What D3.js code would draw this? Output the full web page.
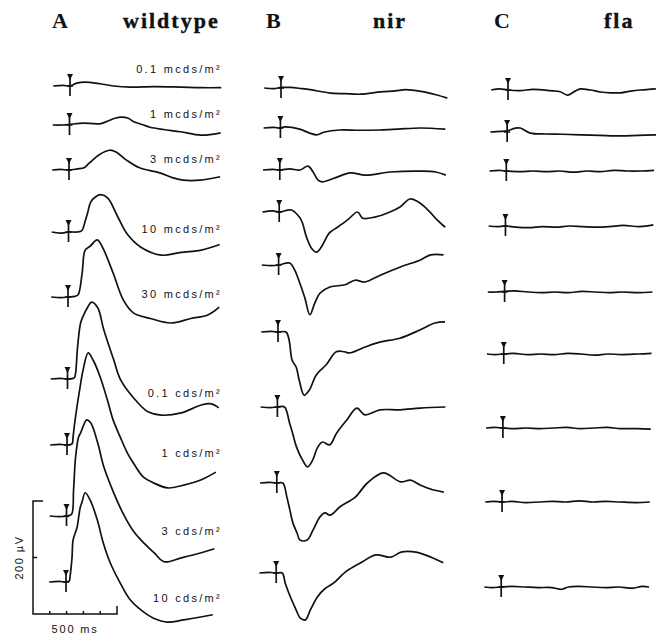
<!DOCTYPE html>
<html>
<head>
<meta charset="utf-8">
<script src="https://cdn.jsdelivr.net/npm/d3@7"></script>
<style>
  body { margin: 0; background: #ffffff; }
  svg { display: block; }
</style>
</head>
<body>
<svg id="chart"></svg>
<script>
// panel headings
const panelLetters = ['A', 'B', 'C'];
const genotypes = ['wildtype', 'nir', 'fla'];

// flash intensities, dimmest first (only printed in panel A)
const intensities = [
  '0.1 mcds/m²', '1 mcds/m²', '3 mcds/m²', '10 mcds/m²', '30 mcds/m²',
  '0.1 cds/m²', '1 cds/m²', '3 cds/m²', '10 cds/m²'
];

// traces: [time after flash (ms), potential (µV)]
const wildtype = [
  [[-100, 0], [-40, 1], [0, 0], [40, 5], [90, 7], [180, 4], [260, 0], [360, -2], [500, -1], [660, -2], [780, -3], [900, -3]],
  [[-100, 0], [-40, 0], [0, 1], [60, 3], [120, 3], [180, 2], [220, 6], [270, 12], [310, 14], [350, 12], [380, 6], [440, 0], [480, -4], [560, -8], [660, -12], [780, -18], [860, -16], [900, -14]],
  [[-100, 0], [-50, 1], [0, 0], [50, 2], [90, 4], [120, 12], [180, 27], [240, 35], [280, 32], [340, 18], [420, 4], [540, -5], [620, -14], [680, -18], [780, -18], [900, -12]],
  [[-100, 0], [-50, -2], [0, 0], [50, 0], [78, 2], [100, 20], [114, 34], [132, 53], [160, 62], [192, 66], [234, 60], [293, 27], [353, -5], [431, -27], [551, -41], [671, -36], [790, -32], [900, -22]],
  [[-100, 0], [-40, -1], [0, 0], [40, 1], [60, 4], [84, 42], [102, 83], [132, 90], [174, 101], [210, 85], [269, 42], [329, -5], [389, -28], [491, -38], [611, -46], [731, -38], [832, -32], [900, -18]],
  [[-100, 0], [-40, 1], [0, 0], [40, 2], [48, 10], [60, 57], [78, 99], [96, 113], [120, 127], [144, 136], [180, 126], [216, 87], [275, 34], [317, -2], [419, -42], [479, -58], [557, -64], [677, -60], [796, -46], [856, -44], [900, -51]],
  [[-100, 0], [-40, 1], [0, 0], [30, 2], [36, 14], [48, 44], [78, 103], [96, 133], [126, 163], [156, 150], [198, 120], [240, 80], [275, 44], [317, 14], [359, -14], [395, -32], [455, -57], [515, -67], [599, -76], [695, -71], [796, -62], [886, -48]],
  [[-100, 0], [-40, -1], [0, 0], [30, 3], [42, 46], [54, 104], [72, 140], [84, 147], [102, 161], [120, 170], [144, 165], [186, 129], [222, 87], [281, 41], [341, 2], [401, -28], [461, -48], [521, -65], [581, -81], [683, -74], [802, -65], [880, -58]],
  [[-100, 0], [-40, 1], [0, 0], [20, 2], [24, 9], [36, 44], [42, 74], [66, 97], [84, 131], [96, 142], [114, 158], [144, 145], [186, 110], [222, 69], [263, 34], [323, -2], [383, -32], [461, -53], [521, -64], [605, -71], [701, -67], [802, -62], [874, -58]]
];

const nir = [
  [[-100, 0], [-40, -1], [0, 1], [54, 1], [120, -1], [174, -3], [293, -9], [380, -10], [473, -11], [593, -7], [680, -5], [743, -3], [832, -6], [922, -12], [990, -18]],
  [[-100, 0], [-40, 1], [0, 0], [24, 2], [114, -2], [174, -9], [216, -12], [263, -7], [353, -3.5], [470, -4], [593, -3.5], [700, -2], [832, 0], [982, -2]],
  [[-100, 0], [-40, 1], [0, 0], [60, 2], [120, 0], [168, 7], [198, -3.5], [228, -18], [251, -21], [329, -14], [419, -5], [509, -9], [659, -3.5], [838, -2], [928, -3.5], [988, -9]],
  [[-100, 0], [-40, 2], [0, 0], [72, 3.5], [120, -9], [138, -19], [162, -44], [192, -64], [222, -71], [251, -62], [299, -37], [347, -27], [407, -14], [467, 0], [497, -11], [569, -9], [659, 0], [719, 9], [778, 23], [826, 18], [886, 3.5], [940, -14], [988, -27]],
  [[-100, 0], [-40, -1], [0, 0], [66, 3.5], [96, -9], [126, -32], [156, -58], [186, -88], [216, -67], [246, -50], [305, -39], [395, -35], [455, -27], [515, -30], [605, -18], [725, -3.5], [844, 9], [904, 18], [982, 18]],
  [[-100, 0], [-40, 1], [0, 0], [48, 0], [66, -14], [84, -50], [108, -62], [126, -85], [156, -112], [186, -103], [228, -76], [287, -58], [347, -35], [395, -35], [425, -37], [515, -27], [605, -18], [725, -11], [844, 3.5], [934, 16], [994, 18]],
  [[-100, 0], [-40, -1], [0, 0], [42, 0], [72, -28], [90, -46], [114, -71], [150, -94], [180, -106], [210, -94], [240, -71], [269, -62], [311, -67], [353, -46], [413, -23], [473, -2], [521, -14], [611, -5], [731, -5], [850, -2], [1000, 0]],
  [[-100, 0], [-40, 1], [0, 0], [36, 0], [60, -25], [78, -48], [96, -71], [120, -88], [138, -101], [180, -101], [216, -83], [257, -60], [287, -53], [317, -57], [377, -42], [467, -25], [539, 0], [635, 18], [737, 2], [796, 5], [856, -4], [928, -12], [994, -16]],
  [[-100, 0], [-40, 1], [0, 0], [36, 0], [54, -18], [84, -42], [114, -62], [144, -80], [174, -83], [204, -65], [246, -42], [293, -27], [341, -18], [413, 2], [503, 18], [593, 32], [683, 28], [743, 37], [832, 37], [922, 28], [994, 18]]
];

const fla = [
  [[-100, 0], [-50, 2], [0, 0], [72, -1], [150, 1], [250, -1], [311, -3], [353, -9], [400, -2], [431, 2], [490, 0], [551, -3.5], [610, -5], [671, -5], [730, -2], [790, 0], [880, 2]],
  [[-100, 0], [-40, 1], [0, 2], [48, 7], [78, 7], [138, -2], [228, -3.5], [330, -4], [437, -5], [550, -6], [677, -7], [780, -6], [886, -5]],
  [[-100, 0], [-40, 1], [0, 0], [80, -1], [160, 0], [240, -1], [320, 0], [400, -2], [480, 0], [560, -1], [640, 1], [720, 0], [800, 0], [880, 1]],
  [[-100, 0], [-50, -1], [0, 0], [60, -2], [140, -3], [220, -1], [300, -2], [380, 0], [460, -1], [540, -2], [620, -1], [700, 1], [800, -1], [880, 2]],
  [[-100, 0], [-50, 0], [0, 1], [60, 2], [140, 0], [220, -1], [300, 0], [380, -1], [460, 1], [540, 0], [620, -1], [700, 0], [800, -1], [880, 0]],
  [[-100, 0], [-50, -1], [0, 0], [60, 1], [140, -1], [220, 0], [300, -1], [380, 1], [460, 0], [540, -2], [620, 0], [700, -1], [800, 0], [880, 1]],
  [[-100, 0], [-50, 1], [0, 0], [60, -1], [140, 0], [220, -1], [300, 0], [380, 1], [460, -1], [540, 0], [620, 1], [700, -1], [800, -1], [880, -2]],
  [[-100, 0], [-50, 1], [0, 0], [60, 1], [140, -1], [220, 0], [300, 1], [380, 0], [460, 2], [540, 0], [620, 1], [700, 0], [800, -1], [880, 0]],
  [[-100, 0], [-50, -1], [0, 0], [60, 1], [140, 0], [220, -1], [300, -1], [360, -4], [400, 0], [460, 1], [540, 0], [620, -1], [700, 0], [780, -2], [840, 1], [880, 0]]
];

// scale bar
const scaleBarMs = 500;
const scaleBarUv = 200;
const scaleBarTickMs = 100;

// ---- layout (pixels) ----
const W = 657;
const H = 640;
const panels = [
  { traces: wildtype, stimX: 70, skew: 0.5, letterX: 52, nameX: 123, rowY: [86, 125, 170, 232, 297, 379, 445, 516, 582] },
  { traces: nir, stimX: 281, skew: 0.6, letterX: 266, nameX: 373, rowY: [88, 128, 170, 212, 265, 332, 407, 483, 573] },
  { traces: fla, stimX: 508, skew: 0.85, letterX: 494, nameX: 604, rowY: [90, 132, 171, 226, 292, 354, 428, 502, 587] }
];
const labelRight = 222;
const labelBaseline = [73, 118, 163, 233, 298, 397, 457, 535, 602];

const msScale = d3.scaleLinear().domain([0, scaleBarMs]).range([0, 84]);
const uvScale = d3.scaleLinear().domain([0, scaleBarUv]).range([0, -113]);

const svg = d3.select('#chart')
  .attr('width', W)
  .attr('height', H)
  .attr('viewBox', `0 0 ${W} ${H}`);

svg.append('rect')
  .attr('width', W)
  .attr('height', H)
  .attr('fill', '#ffffff');

const trace = d3.line()
  .x((d) => msScale(d[0]))
  .y((d) => uvScale(d[1]))
  .curve(d3.curveCatmullRom.alpha(0.5));

panels.forEach((panel, p) => {
  svg.append('text')
    .attr('x', panel.letterX)
    .attr('y', 28)
    .attr('font-family', '"Liberation Serif", "Times New Roman", serif')
    .attr('font-weight', 700)
    .attr('font-size', 22)
    .attr('fill', '#111')
    .text(panelLetters[p]);

  svg.append('text')
    .attr('x', panel.nameX)
    .attr('y', 28)
    .attr('font-family', '"Liberation Serif", "Times New Roman", serif')
    .attr('font-weight', 700)
    .attr('font-size', 22)
    .attr('letter-spacing', 2)
    .attr('stroke', '#111')
    .attr('stroke-width', 0.4)
    .attr('fill', '#111')
    .text(genotypes[p]);

  panel.traces.forEach((points, row) => {
    const g = svg.append('g')
      .attr('transform', `translate(${panel.stimX - (row * panel.skew)}, ${panel.rowY[row]})`);

    g.append('path')
      .attr('d', trace(points))
      .attr('fill', 'none')
      .attr('stroke', '#111')
      .attr('stroke-width', 1.7)
      .attr('stroke-linejoin', 'round');

    // flash marker
    g.append('line')
      .attr('x1', 0)
      .attr('x2', 0)
      .attr('y1', -10)
      .attr('y2', 10)
      .attr('stroke', '#111')
      .attr('stroke-width', 1.7);

    g.append('path')
      .attr('d', 'M-3,-12 L3,-12 L0,-6 Z')
      .attr('fill', '#111');

    g.append('line')
      .attr('x1', -3)
      .attr('x2', 3)
      .attr('y1', 0)
      .attr('y2', 0)
      .attr('stroke', '#111')
      .attr('stroke-width', 1.5);
  });
});

// intensity labels (panel A)
svg.append('g')
  .selectAll('text')
  .data(intensities)
  .join('text')
  .attr('x', labelRight)
  .attr('y', (d, i) => labelBaseline[i])
  .attr('text-anchor', 'end')
  .attr('font-family', '"Liberation Sans", Arial, sans-serif')
  .attr('font-size', 11)
  .attr('letter-spacing', 2.3)
  .attr('fill', '#111')
  .text((d) => d);

// scale bar
const barX = 33;
const barY = 614;
const bar = svg.append('g')
  .attr('transform', `translate(${barX}, ${barY})`)
  .attr('stroke', '#111')
  .attr('stroke-width', 1.5)
  .attr('fill', 'none');

bar.append('path')
  .attr('d', `M10,${uvScale(scaleBarUv)} H0 V0 H${msScale(scaleBarMs)} V-8`);

bar.append('line')
  .attr('x1', 0)
  .attr('x2', 4)
  .attr('y1', uvScale(scaleBarUv / 2))
  .attr('y2', uvScale(scaleBarUv / 2));

bar.selectAll('line.tick')
  .data(d3.range(scaleBarTickMs, scaleBarMs, scaleBarTickMs))
  .join('line')
  .attr('class', 'tick')
  .attr('x1', (d) => msScale(d))
  .attr('x2', (d) => msScale(d))
  .attr('y1', 0)
  .attr('y2', -3);

svg.append('text')
  .attr('transform', `translate(${barX - 10}, ${barY + uvScale(scaleBarUv / 2)}) rotate(-90)`)
  .attr('text-anchor', 'middle')
  .attr('font-family', '"Liberation Sans", Arial, sans-serif')
  .attr('font-size', 11)
  .attr('letter-spacing', 1.5)
  .attr('fill', '#111')
  .text(`${scaleBarUv} µV`);

svg.append('text')
  .attr('x', barX + msScale(scaleBarMs / 2))
  .attr('y', 633)
  .attr('text-anchor', 'middle')
  .attr('font-family', '"Liberation Sans", Arial, sans-serif')
  .attr('font-size', 11)
  .attr('letter-spacing', 1.8)
  .attr('fill', '#111')
  .text(`${scaleBarMs} ms`);
</script>
</body>
</html>
